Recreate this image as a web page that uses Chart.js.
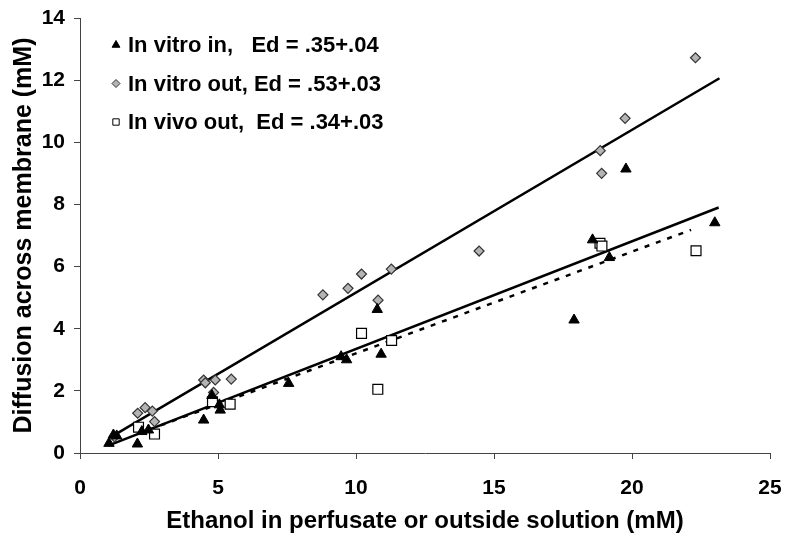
<!DOCTYPE html>
<html>
<head>
<meta charset="utf-8">
<script src="https://cdn.jsdelivr.net/npm/chart.js@4.4.1/dist/chart.umd.min.js"></script>
<style>
  html, body { margin: 0; padding: 0; background: #fff; }
</style>
</head>
<body>
<canvas id="chart" width="796" height="543"></canvas>
<script>
// In vitro in (filled triangles)
const vitroInX = [1.05, 1.21, 1.33, 2.08, 2.24, 2.48, 4.48, 4.78, 5.08, 5.05, 7.56, 9.46, 9.66, 10.77, 10.91, 17.90, 18.57, 19.18, 19.78, 23.00];
const vitroInY = [0.31, 0.58, 0.55, 0.29, 0.69, 0.74, 1.06, 1.85, 1.38, 1.55, 2.24, 3.10, 3.00, 4.62, 3.18, 4.28, 6.86, 6.29, 9.14, 7.41];

// In vitro out (grey diamonds)
const vitroOutX = [1.25, 2.09, 2.36, 2.62, 2.70, 4.48, 4.54, 4.90, 5.48, 4.84, 8.80, 9.71, 10.20, 10.80, 11.28, 14.46, 18.85, 18.90, 19.75, 22.30];
const vitroOutY = [0.52, 1.28, 1.46, 1.35, 1.01, 2.35, 2.26, 2.35, 2.38, 1.95, 5.09, 5.30, 5.76, 4.92, 5.92, 6.50, 9.73, 9.00, 10.77, 12.72];

// In vivo out (open squares)
const vivoOutX = [2.12, 2.70, 4.80, 5.44, 10.20, 10.79, 11.29, 18.84, 18.91, 22.32];
const vivoOutY = [0.83, 0.61, 1.65, 1.57, 3.85, 2.05, 3.62, 6.75, 6.66, 6.51];

// regression lines, start and end points
const vitroInFitX = [1.09, 23.14];
const vitroInFitY = [0.26, 7.90];
const vitroOutFitX = [1.13, 23.17];
const vitroOutFitY = [0.52, 12.06];
const vivoOutFitX = [2.10, 22.14];
const vivoOutFitY = [0.62, 7.18];

const legendLabels = [
    'In vitro in,   Ed = .35+.04',
    'In vitro out, Ed = .53+.03',
    'In vivo out,  Ed = .34+.03'
];

const xTicks = [0, 5, 10, 15, 20, 25];
const yTicks = [0, 2, 4, 6, 8, 10, 12, 14];

const FONT = '"Liberation Sans", Arial, sans-serif';
const legendMarkerSize = [4.5, 4, 4.5];

function toPoints(xs, ys) {
    return xs.map((x, i) => ({ x: x, y: ys[i] }));
}

// Legend drawn inside the plot, top left
const insideLegend = {
    id: 'insideLegend',
    afterDraw(chart) {
        const ctx = chart.ctx;
        ctx.save();
        ctx.font = 'bold 22px ' + FONT;
        ctx.textBaseline = 'middle';
        ctx.textAlign = 'left';
        legendLabels.forEach((txt, i) => {
            const ds = chart.data.datasets[i];
            const y = 45 + i * 38.5;
            ctx.fillStyle = ds.backgroundColor;
            ctx.strokeStyle = ds.borderColor;
            ctx.lineWidth = 1;
            Chart.helpers.drawPoint(ctx, {
                pointStyle: ds.pointStyle,
                radius: legendMarkerSize[i],
                borderWidth: 1,
                rotation: 0
            }, 116, y);
            ctx.fillStyle = '#000';
            ctx.fillText(txt, 128, y + 1);
        });
        ctx.restore();
    }
};

const fitLine = (xs, ys, dash) => ({
    type: 'line',
    data: toPoints(xs, ys),
    borderColor: '#000',
    borderWidth: 2.5,
    borderDash: dash,
    pointRadius: 0,
    fill: false
});

new Chart(document.getElementById('chart'), {
    type: 'scatter',
    data: {
        datasets: [
            {
                label: legendLabels[0],
                data: toPoints(vitroInX, vitroInY),
                pointStyle: 'triangle',
                pointRadius: 6,
                backgroundColor: '#000',
                borderColor: '#000',
                borderWidth: 1
            },
            {
                label: legendLabels[1],
                data: toPoints(vitroOutX, vitroOutY),
                pointStyle: 'rectRot',
                pointRadius: 5,
                backgroundColor: '#b4b4b4',
                borderColor: '#333',
                borderWidth: 1.2
            },
            {
                label: legendLabels[2],
                data: toPoints(vivoOutX, vivoOutY),
                pointStyle: 'rect',
                pointRadius: 7,
                backgroundColor: '#fff',
                borderColor: '#000',
                borderWidth: 1.2
            },
            fitLine(vitroOutFitX, vitroOutFitY, []),
            fitLine(vitroInFitX, vitroInFitY, []),
            fitLine(vivoOutFitX, vivoOutFitY, [5, 7])
        ]
    },
    options: {
        responsive: false,
        animation: false,
        layout: { padding: { top: 18, right: 26, left: 0, bottom: 0 } },
        plugins: {
            legend: { display: false },
            tooltip: { enabled: false }
        },
        scales: {
            x: {
                type: 'linear',
                min: 0,
                max: 25,
                afterFit: s => {
                    s.height = 90;
                    s.paddingLeft = 0;
                    s.paddingRight = 0;
                },
                afterBuildTicks: s => { s.ticks = xTicks.map(v => ({ value: v })); },
                grid: { drawOnChartArea: false, tickLength: 6, color: '#444' },
                border: { color: '#444', width: 1 },
                ticks: { color: '#000', padding: 17, font: { family: FONT, size: 21, weight: 'bold' } },
                title: {
                    display: true,
                    text: 'Ethanol in perfusate or outside solution (mM)',
                    color: '#000',
                    font: { family: FONT, size: 24, weight: 'bold' },
                    padding: { top: 0, bottom: 7 }
                }
            },
            y: {
                type: 'linear',
                min: 0,
                max: 14,
                afterFit: s => {
                    s.width = 80;
                    s.paddingTop = 0;
                    s.paddingBottom = 0;
                },
                afterBuildTicks: s => { s.ticks = yTicks.map(v => ({ value: v })); },
                grid: { drawOnChartArea: false, tickLength: 6, color: '#444' },
                border: { color: '#444', width: 1 },
                ticks: { color: '#000', padding: 9, font: { family: FONT, size: 21, weight: 'bold' } },
                title: {
                    display: true,
                    text: 'Diffusion across membrane (mM)',
                    color: '#000',
                    font: { family: FONT, size: 25, weight: 'bold' },
                    padding: { top: 9, bottom: 0 }
                }
            }
        }
    },
    plugins: [insideLegend]
});
</script>
</body>
</html>
